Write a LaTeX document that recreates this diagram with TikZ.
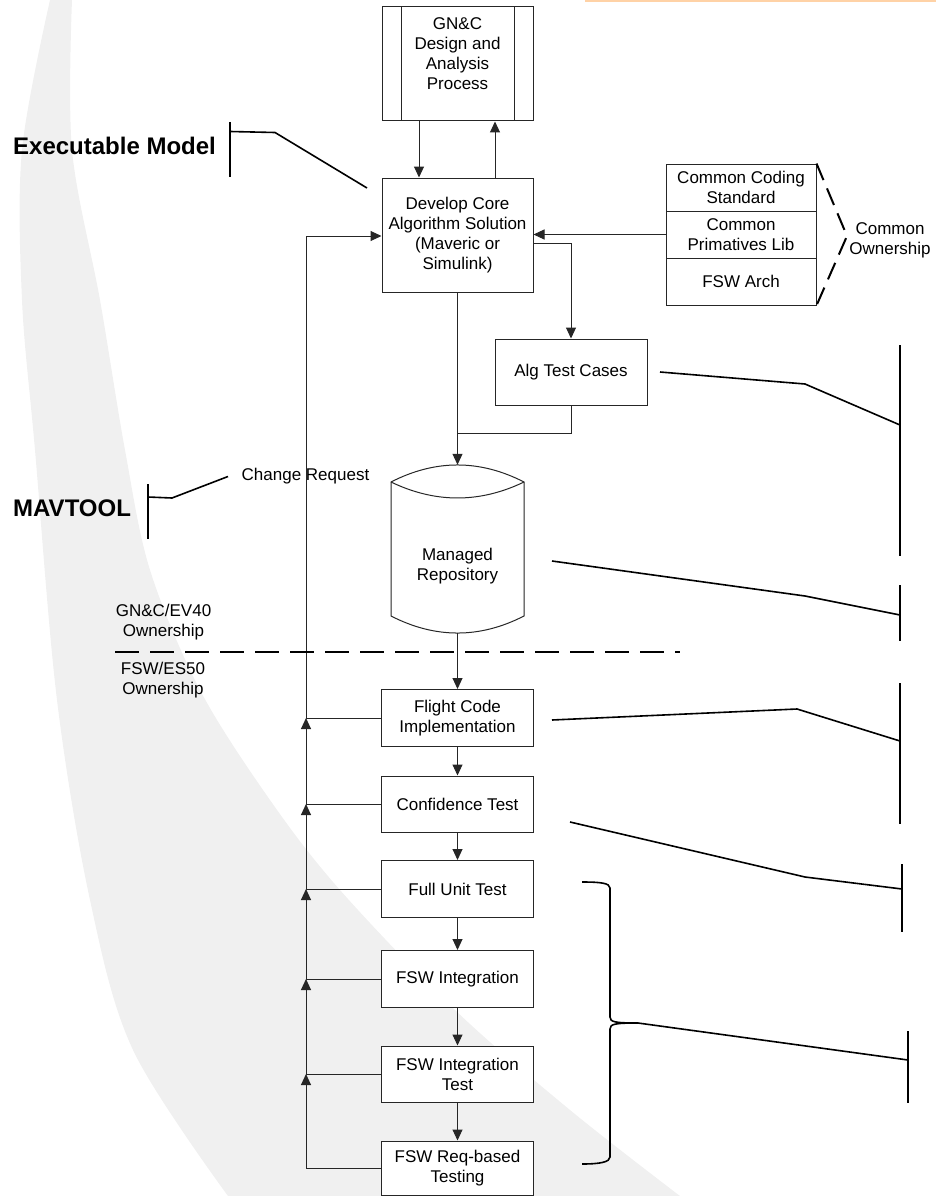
\documentclass[tikz,border=0pt]{standalone}
\usepackage{fontspec}
\setmainfont{Liberation Sans}
\usetikzlibrary{arrows.meta}
\newcommand\txtsize{\fontsize{17}{20}\selectfont}
\newcommand\headsize{\fontsize{24}{28}\selectfont\bfseries}
\begin{document}
\begin{tikzpicture}[
  x=1pt, y=-1pt,
  box/.style={draw=black!85, line width=1pt, fill=white, align=center,
              inner sep=0pt, font=\txtsize},
  txt/.style={align=center, inner sep=0pt, font=\txtsize},
  head/.style={anchor=west, inner sep=0pt, font=\headsize},
  link/.style={draw=black!85, line width=1pt},
  arr/.style={link, -{Triangle[length=11pt,width=10pt]}},
  callout/.style={draw=black, line width=1.6pt},
  ownsplit/.style={draw=black, line width=2pt, dash pattern=on 24pt off 11pt},
  ownbrace/.style={draw=black, line width=2pt, dash pattern=on 18pt off 9pt},
]
\useasboundingbox (0,0) rectangle (936,1196);

% faint swoosh in the background
\fill[black!6] plot[smooth, tension=0.55] coordinates
  {(50,0) (22,150) (22,300) (35,450) (57,700) (90,900) (133,1050) (228,1196)}
  -- (680,1196) -- plot[smooth, tension=0.55] coordinates
  {(680,1196) (570,1110) (455,1010) (340,890) (270,800) (200,690) (150,570)
   (125,450) (100,300) (72,150) (72,0)} -- cycle;
\draw[orange!35, line width=3pt] (585,1) -- (936,1);

% ---- process chain ----
\node[box, minimum width=151pt, minimum height=114pt] (gnc) at (457.5,64) {};
\draw[link] (401,7) -- (401,121) (514,7) -- (514,121);
\node[txt] (gnctext) at (457.5,54) {GN\&C\\Design and\\Analysis\\Process};

\node[box, minimum width=151pt, minimum height=114pt] (dev) at (457.5,235)
  {Develop Core\\Algorithm Solution\\(Maveric or\\Simulink)};

\node[box, minimum width=150pt, minimum height=47pt] (ccs) at (741,187.5) {Common Coding\\Standard};
\node[box, minimum width=150pt, minimum height=47pt] (cpl) at (741,234.5) {Common\\Primatives Lib};
\node[box, minimum width=150pt, minimum height=47pt] (arch) at (741,281.5) {FSW Arch};

\node[box, minimum width=152pt, minimum height=66pt] (alg) at (571,372) {Alg Test Cases};

% managed repository drum
\node[minimum width=133pt, minimum height=168pt, inner sep=0pt] (repo) at (457.5,549) {};
\filldraw[link, fill=white]
  (391,482) .. controls (435.3,459.3) and (479.7,459.3) .. (524,482)
  -- (524,616) .. controls (479.7,638.7) and (435.3,638.7) .. (391,616) -- cycle;
\draw[link] (391,482) .. controls (435.3,503.3) and (479.7,503.3) .. (524,482);
\node[txt] (repotext) at (457.5,566) {Managed\\Repository};

\node[box, minimum width=152pt, minimum height=57pt] (fc)  at (457.5,718)  {Flight Code\\Implementation};
\node[box, minimum width=152pt, minimum height=56pt] (ct)  at (457.5,804)  {Confidence Test};
\node[box, minimum width=152pt, minimum height=57pt] (fut) at (457.5,889)  {Full Unit Test};
\node[box, minimum width=152pt, minimum height=57pt] (fi)  at (457.5,979)  {FSW Integration};
\node[box, minimum width=152pt, minimum height=56pt] (fit) at (457.5,1074) {FSW Integration\\Test};
\node[box, minimum width=152pt, minimum height=54pt] (frt) at (457.5,1168) {FSW Req-based\\Testing};

% ---- flow connectors ----
\draw[arr] (gnc.south -| 419,0) -- (dev.north -| 419,0);
\draw[arr] (dev.north -| 495,0) -- (gnc.south -| 495,0);
\draw[arr] (cpl.west) -- (dev.east |- cpl.west);
\draw[arr] (dev.east |- 0,243) -- (571,243) -- (alg.north);
\draw[arr] (dev.south) -- (repo.north);
\draw[link] (alg.south) -- (571,433) -- (457.5,433);
\draw[arr] (repo.south) -- (fc.north);
\draw[arr] (fc) -- (ct);
\draw[arr] (ct) -- (fut);
\draw[arr] (fut) -- (fi);
\draw[arr] (fi) -- (fit);
\draw[arr] (fit) -- (frt);

% ---- change request loop ----
\coordinate (jfc)  at (306,718);
\coordinate (jct)  at (306,804);
\coordinate (jfut) at (306,889);
\coordinate (jfi)  at (306,979);
\coordinate (jfit) at (306,1074);
\coordinate (jfrt) at (306,1168);
\draw[link] (fc.west) -- (jfc);
\draw[link] (ct.west) -- (jct);
\draw[link] (fut.west) -- (jfut);
\draw[link] (fi.west) -- (jfi);
\draw[link] (fit.west) -- (jfit);
\draw[link] (frt.west) -- (jfrt);
\draw[arr] (jfrt) -- (jfit);
\draw[arr] (jfit) -- (jfi);
\draw[arr] (jfi) -- (jfut);
\draw[arr] (jfut) -- (jct);
\draw[arr] (jct) -- (jfc);
\draw[arr] (jfc) -- (306,236) -- (dev.west |- 0,236);
\node[txt] (cr) at (305.5,476) {Change Request};

% ---- ownership split ----
\draw[ownsplit] (115,652) -- (680,652);
\node[txt] (own1) at (163.5,622) {GN\&C/EV40\\Ownership};
\node[txt] (own2) at (163,680) {FSW/ES50\\Ownership};

% common ownership bracket
\draw[ownbrace] (ccs.north east) -- (847,236) -- (arch.south east);
\node[txt] (common) at (890,240) {Common\\Ownership};

% ---- left headings ----
\node[head] (exe) at (13,146) {Executable Model};
\draw[callout] (230,122) -- (230,177);
\draw[callout] (230,131.5) -- (275,132.5) -- (367,188);

\node[head] (mav) at (13,508) {MAVTOOL};
\draw[callout] (148,484) -- (148,539);
\draw[callout] (148,497) -- (172,498) -- (228,476.5);

% ---- right callouts ----
\draw[callout] (660,372) -- (805,384) -- (900,425);
\draw[callout] (900,345) -- (900,556);

\draw[callout] (552,561) -- (805,596) -- (900,615);
\draw[callout] (900,585) -- (900,641);

\draw[callout] (552,720) -- (797,709) -- (900,741);
\draw[callout] (900,683) -- (900,824);

\draw[callout] (570,822) -- (805,877) -- (902,889);
\draw[callout] (902,864) -- (902,932);

% brace over the test stages
\draw[callout] (582,882) .. controls (600,882) and (610,883) .. (610,888)
  -- (610,1017) .. controls (610,1022) and (615,1023) .. (638,1023)
  .. controls (615,1023) and (610,1024) .. (610,1029)
  -- (610,1157) .. controls (610,1162) and (600,1164) .. (582,1164);
\draw[callout] (638,1023) -- (908,1060);
\draw[callout] (908,1031) -- (908,1103);
\end{tikzpicture}
\end{document}
